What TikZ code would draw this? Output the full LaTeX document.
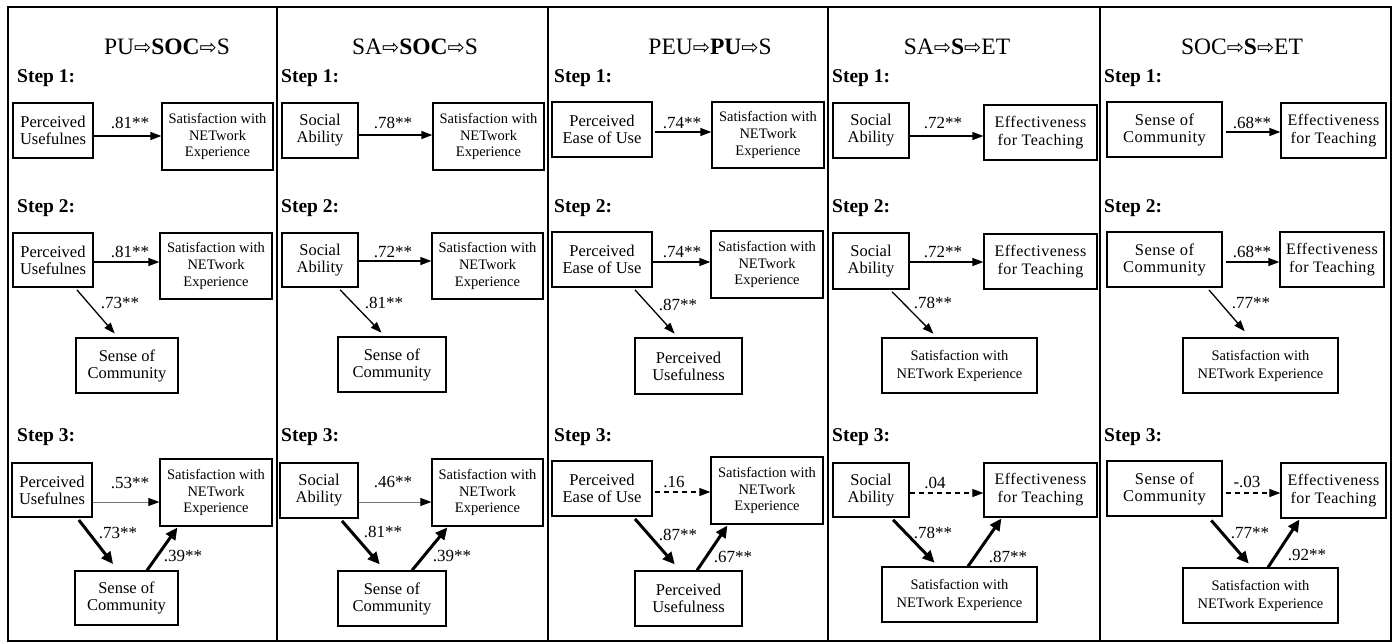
\documentclass[tikz,border=0pt]{standalone}
\usepackage{fontspec}
\setmainfont{Liberation Serif}[BoldFont={Liberation Serif Bold}]
\newfontfamily\arrowfont{DejaVu Sans}
\usetikzlibrary{arrows.meta}

% outlined arrow used in the panel headings
\newcommand\harr{{\arrowfont\fontsize{20.5}{20}\selectfont ⇨}}

% box given by its corners (x1,y1)-(x2,y2): style, name, x1, y1, x2, y2, text
\newcommand\drawbox[7]{%
  \node[box,#1,minimum width={(#5-#3)*1pt},minimum height={(#6-#4)*1pt}]
    (#2) at ({(#3+#5)/2},{(#4+#6)/2}) {#7};}

\tikzset{
  frame/.style={line width=1.5pt},
  box/.style={draw, line width=1.3pt, inner sep=0pt, align=center,
              font=\fontsize{16.5}{17}\selectfont},
  sne/.style={font=\fontsize{14.5}{16.7}\selectfont},
  snewide/.style={font=\fontsize{14.5}{18}\selectfont},
  eft/.style={font=\fontsize{16}{18}\selectfont\addfontfeature{LetterSpace=3}},
  soc/.style={font=\fontsize{16.5}{17}\selectfont\addfontfeature{LetterSpace=3}},
  headline/.style={anchor=base, inner sep=0pt, font=\fontsize{23.5}{26}\selectfont},
  steplab/.style={anchor=base west, inner sep=0pt, font=\fontsize{19.5}{22}\selectfont\bfseries},
  coef/.style={anchor=base, inner sep=0pt, font=\fontsize{17}{19}\selectfont},
  thinarr/.style={line width=1.3pt, -{Triangle[length=11pt,width=8pt]}},
  grayarr/.style={line width=1pt, draw=black!55, -{Triangle[length=11pt,width=8pt,color=black]}},
  dasharr/.style={line width=1.2pt, dash pattern=on 5pt off 4pt, -{Triangle[length=11pt,width=8pt]}},
  thickarr/.style={line width=3pt, -{Triangle[length=12pt,width=11pt]}},
}

\begin{document}
\begin{tikzpicture}[x=1pt,y=-1pt]
\useasboundingbox (0,0) rectangle (1396,643);

% outer frame and panel dividers
\draw[frame] (8,7) rectangle (1391,641);
\foreach \xd in {277,548,828,1100} \draw[frame] (\xd,7) -- (\xd,641);

% ---------------- panel 1: PU -> SOC -> S ----------------
\node[headline] (p1t) at (167,54) {PU\harr\textbf{SOC}\harr S};
\node[steplab] (p1s1) at (17,82) {Step 1:};
\node[steplab] (p1s2) at (17,212) {Step 2:};
\node[steplab] (p1s3) at (17,441) {Step 3:};
\drawbox{}{p1a1}{13}{103}{93}{158}{Perceived\\Usefulnes}
\drawbox{sne}{p1b1}{162}{103}{273}{170}{Satisfaction with\\NETwork\\Experience}
\drawbox{}{p1a2}{13}{233}{93}{287}{Perceived\\Usefulnes}
\drawbox{sne}{p1b2}{160}{233}{272}{299}{Satisfaction with\\NETwork\\Experience}
\drawbox{}{p1m2}{76}{338}{178}{393}{Sense of\\Community}
\drawbox{}{p1a3}{12}{463}{92}{517}{Perceived\\Usefulnes}
\drawbox{sne}{p1b3}{160}{459}{272}{526}{Satisfaction with\\NETwork\\Experience}
\drawbox{}{p1m3}{75}{571}{178}{625}{Sense of\\Community}
\draw[thinarr] (p1a1.east |- 0,136) -- (p1b1.west |- 0,136);
\draw[thinarr] (p1a2.east |- 0,262) -- (p1b2.west |- 0,262);
\draw[thinarr, shorten <=3pt, shorten >=5pt] (p1a2.south -| 75,0) -- (p1m2.north -| 118,0);
\draw[grayarr] (p1a3.east |- 0,502) -- (p1b3.west |- 0,502);
\draw[thickarr, shorten <=3pt, shorten >=8pt] (p1a3.south -| 77,0) -- (p1m3.north -| 118,0);
\draw[thickarr, shorten >=1pt] (p1m3.north -| 147,0) -- (p1b3.south -| 178,0);
\node[coef] (p1c1) at (130,128) {.81**};
\node[coef] (p1c2) at (130,257) {.81**};
\node[coef] (p1c3) at (120,308) {.73**};
\node[coef] (p1c4) at (130,488) {.53**};
\node[coef] (p1c5) at (118,538) {.73**};
\node[coef] (p1c6) at (183,561) {.39**};

% ---------------- panel 2: SA -> SOC -> S ----------------
\node[headline] (p2t) at (415,54) {SA\harr\textbf{SOC}\harr S};
\node[steplab] (p2s1) at (281,82) {Step 1:};
\node[steplab] (p2s2) at (281,212) {Step 2:};
\node[steplab] (p2s3) at (281,441) {Step 3:};
\drawbox{}{p2a1}{282}{103}{358}{158}{Social\\Ability}
\drawbox{sne}{p2b1}{433}{103}{544}{170}{Satisfaction with\\NETwork\\Experience}
\drawbox{}{p2a2}{282}{233}{358}{287}{Social\\Ability}
\drawbox{sne}{p2b2}{432}{233}{543}{299}{Satisfaction with\\NETwork\\Experience}
\drawbox{}{p2m2}{338}{337}{446}{392}{Sense of\\Community}
\drawbox{}{p2a3}{280}{463}{358}{518}{Social\\Ability}
\drawbox{sne}{p2b3}{432}{459}{543}{526}{Satisfaction with\\NETwork\\Experience}
\drawbox{}{p2m3}{338}{571}{446}{626}{Sense of\\Community}
\draw[thinarr] (p2a1.east |- 0,135) -- (p2b1.west |- 0,135);
\draw[thinarr] (p2a2.east |- 0,261) -- (p2b2.west |- 0,261);
\draw[thinarr, shorten <=3pt, shorten >=5pt] (p2a2.south -| 338,0) -- (p2m2.north -| 385,0);
\draw[grayarr] (p2a3.east |- 0,502) -- (p2b3.west |- 0,502);
\draw[thickarr, shorten <=3pt, shorten >=8pt] (p2a3.south -| 340,0) -- (p2m3.north -| 385,0);
\draw[thickarr, shorten >=1pt] (p2m3.north -| 412,0) -- (p2b3.south -| 448,0);
\node[coef] (p2c1) at (393,128) {.78**};
\node[coef] (p2c2) at (393,257) {.72**};
\node[coef] (p2c3) at (384,308) {.81**};
\node[coef] (p2c4) at (393,487) {.46**};
\node[coef] (p2c5) at (383,537) {.81**};
\node[coef] (p2c6) at (452,561) {.39**};

% ---------------- panel 3: PEU -> PU -> S ----------------
\node[headline] (p3t) at (710,54) {PEU\harr\textbf{PU}\harr S};
\node[steplab] (p3s1) at (554,82) {Step 1:};
\node[steplab] (p3s2) at (554,212) {Step 2:};
\node[steplab] (p3s3) at (554,441) {Step 3:};
\drawbox{}{p3a1}{552}{102}{652}{157}{Perceived\\Ease of Use}
\drawbox{sne}{p3b1}{712}{102}{824}{168}{Satisfaction with\\NETwork\\Experience}
\drawbox{}{p3a2}{552}{232}{652}{287}{Perceived\\Ease of Use}
\drawbox{sne}{p3b2}{711}{231}{823}{298}{Satisfaction with\\NETwork\\Experience}
\drawbox{}{p3m2}{635}{338}{742}{394}{Perceived\\Usefulness}
\drawbox{}{p3a3}{552}{461}{652}{516}{Perceived\\Ease of Use}
\drawbox{sne}{p3b3}{711}{457}{823}{524}{Satisfaction with\\NETwork\\Experience}
\drawbox{}{p3m3}{635}{571}{742}{626}{Perceived\\Usefulness}
\draw[thinarr, shorten <=2pt] (p3a1.east |- 0,132) -- (p3b1.west |- 0,132);
\draw[thinarr] (p3a2.east |- 0,262) -- (p3b2.west |- 0,262);
\draw[thinarr, shorten <=3pt, shorten >=5pt] (p3a2.south -| 633,0) -- (p3m2.north -| 678,0);
\draw[dasharr, shorten <=2pt] (p3a3.east |- 0,492) -- (p3b3.west |- 0,492);
\draw[thickarr, shorten <=3pt, shorten >=8pt] (p3a3.south -| 633,0) -- (p3m3.north -| 680,0);
\draw[thickarr, shorten >=1pt] (p3m3.north -| 697,0) -- (p3b3.south -| 728,0);
\node[coef] (p3c1) at (682,128) {.74**};
\node[coef] (p3c2) at (682,257) {.74**};
\node[coef] (p3c3) at (678,310) {.87**};
\node[coef] (p3c4) at (674,487) {.16};
\node[coef] (p3c5) at (678,540) {.87**};
\node[coef] (p3c6) at (733,562) {.67**};

% ---------------- panel 4: SA -> S -> ET ----------------
\node[headline] (p4t) at (957,54) {SA\harr\textbf{S}\harr ET};
\node[steplab] (p4s1) at (832,82) {Step 1:};
\node[steplab] (p4s2) at (832,212) {Step 2:};
\node[steplab] (p4s3) at (832,441) {Step 3:};
\drawbox{}{p4a1}{833}{103}{909}{158}{Social\\Ability}
\drawbox{eft}{p4b1}{984}{105}{1097}{160}{Effectiveness\\for Teaching}
\drawbox{}{p4a2}{833}{233}{909}{289}{Social\\Ability}
\drawbox{eft}{p4b2}{984}{234}{1097}{289}{Effectiveness\\for Teaching}
\drawbox{snewide}{p4m2}{882}{338}{1037}{393}{Satisfaction with\\NETwork Experience}
\drawbox{}{p4a3}{833}{463}{909}{517}{Social\\Ability}
\drawbox{eft}{p4b3}{984}{463}{1097}{517}{Effectiveness\\for Teaching}
\drawbox{snewide}{p4m3}{882}{567}{1037}{622}{Satisfaction with\\NETwork Experience}
\draw[thinarr] (p4a1.east |- 0,136) -- (p4b1.west |- 0,136);
\draw[thinarr] (p4a2.east |- 0,262) -- (p4b2.west |- 0,262);
\draw[thinarr, shorten <=3pt, shorten >=5pt] (p4a2.south -| 890,0) -- (p4m2.north -| 937,0);
\draw[dasharr] (p4a3.east |- 0,493) -- (p4b3.west |- 0,493);
\draw[thickarr, shorten <=3pt, shorten >=5pt] (p4a3.south -| 891,0) -- (p4m3.north -| 938,0);
\draw[thickarr, shorten >=1pt] (p4m3.north -| 968,0) -- (p4b3.south -| 1002,0);
\node[coef] (p4c1) at (943,128) {.72**};
\node[coef] (p4c2) at (943,257) {.72**};
\node[coef] (p4c3) at (933,308) {.78**};
\node[coef] (p4c4) at (935,488) {.04};
\node[coef] (p4c5) at (933,538) {.78**};
\node[coef] (p4c6) at (1008,562) {.87**};

% ---------------- panel 5: SOC -> S -> ET ----------------
\node[headline] (p5t) at (1242,54) {SOC\harr\textbf{S}\harr ET};
\node[steplab] (p5s1) at (1104,82) {Step 1:};
\node[steplab] (p5s2) at (1104,212) {Step 2:};
\node[steplab] (p5s3) at (1104,441) {Step 3:};
\drawbox{soc}{p5a1}{1107}{102}{1222}{157}{Sense of\\Community}
\drawbox{eft}{p5b1}{1281}{103}{1386}{158}{Effectiveness\\for Teaching}
\drawbox{soc}{p5a2}{1107}{232}{1222}{287}{Sense of\\Community}
\drawbox{eft}{p5b2}{1280}{232}{1384}{287}{Effectiveness\\for Teaching}
\drawbox{snewide}{p5m2}{1183}{338}{1338}{393}{Satisfaction with\\NETwork Experience}
\drawbox{soc}{p5a3}{1107}{461}{1222}{516}{Sense of\\Community}
\drawbox{eft}{p5b3}{1281}{463}{1386}{518}{Effectiveness\\for Teaching}
\drawbox{snewide}{p5m3}{1183}{568}{1338}{623}{Satisfaction with\\NETwork Experience}
\draw[thinarr, shorten <=3pt] (p5a1.east |- 0,132) -- (p5b1.west |- 0,132);
\draw[thinarr, shorten <=3pt] (p5a2.east |- 0,262) -- (p5b2.west |- 0,262);
\draw[thinarr, shorten <=3pt, shorten >=8pt] (p5a2.south -| 1207,0) -- (p5m2.north -| 1250,0);
\draw[dasharr, shorten <=3pt] (p5a3.east |- 0,493) -- (p5b3.west |- 0,493);
\draw[thickarr, shorten <=5pt, shorten >=5pt] (p5a3.south -| 1208,0) -- (p5m3.north -| 1252,0);
\draw[thickarr, shorten >=1pt] (p5m3.north -| 1268,0) -- (p5b3.south -| 1300,0);
\node[coef] (p5c1) at (1252,128) {.68**};
\node[coef] (p5c2) at (1252,257) {.68**};
\node[coef] (p5c3) at (1251,308) {.77**};
\node[coef] (p5c4) at (1247,487) {-.03};
\node[coef] (p5c5) at (1250,538) {.77**};
\node[coef] (p5c6) at (1307,560) {.92**};
\end{tikzpicture}
\end{document}
